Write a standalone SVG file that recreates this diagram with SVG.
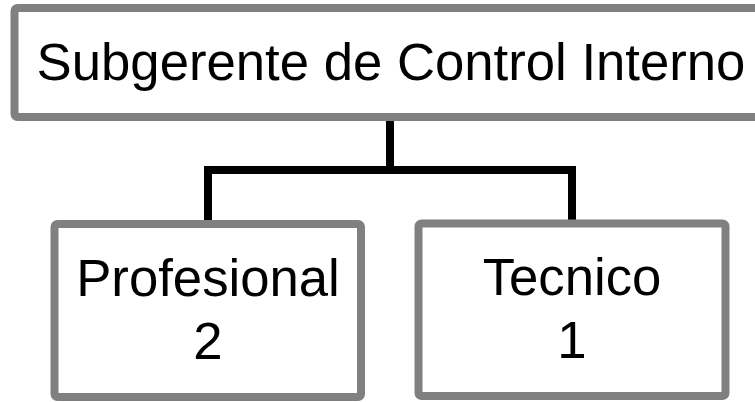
<svg xmlns="http://www.w3.org/2000/svg" width="755" height="402" viewBox="0 0 755 402">
  <style>
    .box { fill: #ffffff; stroke: #808080; stroke-width: 8; }
    .lbl { font-family: "Liberation Sans", Arial, sans-serif; font-size: 52.7px; fill: #000000; text-anchor: middle; }
    .conn { fill: none; stroke: #000000; stroke-width: 8; stroke-linecap: square; }
  </style>
  <rect width="755" height="402" fill="#ffffff"/>
  <g id="connectors">
    <path class="conn" d="M390 121 V170"/>
    <path class="conn" d="M208 220 V170 H572 V219"/>
  </g>
  <g id="node-subgerente">
    <rect class="box" x="14.5" y="8" width="760" height="109" rx="3"/>
    <text class="lbl" x="391" y="80">Subgerente de Control Interno</text>
  </g>
  <g id="node-profesional">
    <rect class="box" x="54.5" y="224" width="306.5" height="173" rx="3"/>
    <text class="lbl" x="208" y="296">Profesional</text>
    <text class="lbl" x="208" y="359">2</text>
  </g>
  <g id="node-tecnico">
    <rect class="box" x="418.5" y="223.5" width="307" height="172.5" rx="3"/>
    <text class="lbl" x="572" y="295">Tecnico</text>
    <text class="lbl" x="572" y="358">1</text>
  </g>
</svg>
